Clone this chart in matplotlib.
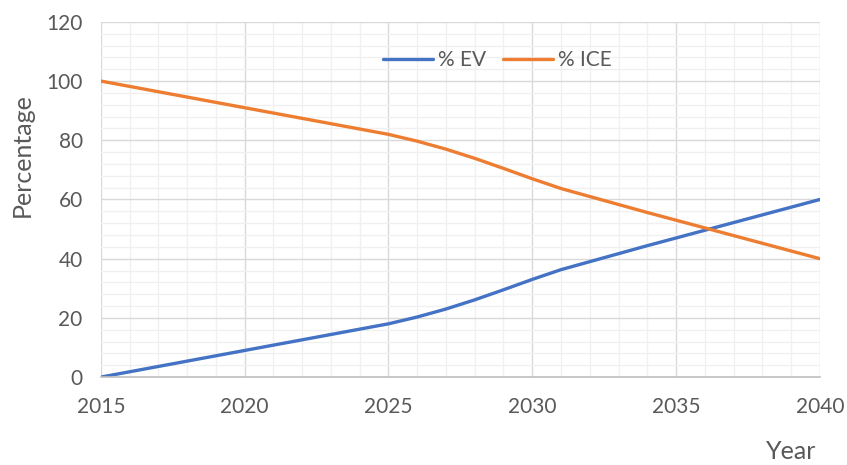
import numpy as np
import matplotlib.pyplot as plt
from matplotlib.ticker import MultipleLocator

plt.rcParams['font.family'] = ['Lato', 'DejaVu Sans']

# Data
years = [2015, 2016, 2017, 2018, 2019, 2020, 2021, 2022, 2023, 2024, 2025,
         2026, 2027, 2028, 2029, 2030, 2031, 2032, 2033, 2034, 2035,
         2036, 2037, 2038, 2039, 2040]
ev = [0, 1.8, 3.6, 5.4, 7.2, 9.0, 10.8, 12.6, 14.4, 16.2, 18.0,
      20.3, 23.0, 26.1, 29.5, 33.0, 36.3, 39.0, 41.7, 44.4, 47.0,
      49.6, 52.2, 54.8, 57.4, 60.0]
ice = [100 - v for v in ev]

fig = plt.figure(figsize=(8.47, 4.65), dpi=100)
ax = fig.add_axes([0.119, 0.189, 0.849, 0.764])

ax.plot(years, ev, color='#4472C4', lw=2.4, label='% EV', solid_capstyle='round',
        solid_joinstyle='round')
ax.plot(years, ice, color='#ED7D31', lw=2.4, label='% ICE', solid_capstyle='round',
        solid_joinstyle='round')

ax.set_xlim(2015, 2040)
ax.set_ylim(0, 120)
ax.xaxis.set_major_locator(MultipleLocator(5))
ax.xaxis.set_minor_locator(MultipleLocator(1))
ax.yaxis.set_major_locator(MultipleLocator(20))
ax.yaxis.set_minor_locator(MultipleLocator(4))
ax.grid(which='major', color='#D9D9D9', lw=1.0)
ax.grid(which='minor', color='#F0F0F0', lw=1.0)
ax.set_axisbelow(True)

for s in ['top', 'right', 'left']:
    ax.spines[s].set_visible(False)
ax.spines['bottom'].set_color('#BFBFBF')
ax.spines['bottom'].set_linewidth(1.2)

ax.tick_params(which='both', length=0, colors='#595959', labelsize=15)
ax.tick_params(axis='x', pad=14)
ax.tick_params(axis='y', pad=13)

fig.text(0.026, 0.667, 'Percentage', rotation=90, fontsize=18, color='#595959',
         ha='center', va='center')
fig.text(0.934, 0.004, 'Year', fontsize=18, color='#595959', ha='center', va='bottom')

leg = ax.legend(loc='center', bbox_to_anchor=(0.552, 0.893), ncol=2, frameon=False,
                fontsize=15, handlelength=2.4, columnspacing=0.8, handletextpad=0.25,
                labelcolor='#595959')

fig.savefig('out.png', dpi=100)
